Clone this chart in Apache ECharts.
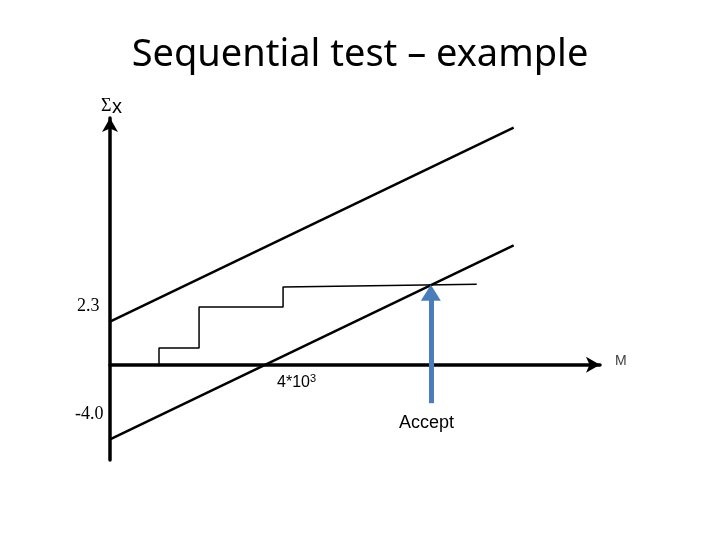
<!DOCTYPE html>
<html>
<head>
<meta charset="utf-8">
<script src="https://cdn.jsdelivr.net/npm/echarts@6/dist/echarts.min.js"></script>
<style>
	html,body{margin:0;padding:0;background:#fff}
	#chart{width:720px;height:540px}
</style>
</head>
<body>
<div id="chart"></div>
<script>
	// M in units of 10^3, sum in units of x
	var boundM = [0, 10.38];
	var upperSum = [2.3, 12.68];
	var lowerSum = [-4.0, 6.38];
	var stepM = [1.26, 1.26, 2.29, 2.29, 4.45, 4.45, 9.43];
	var stepSum = [0, 0.89, 0.89, 3.09, 3.09, 4.16, 4.3];
	var acceptM = 8.25;
	var acceptSum = [-2.06, 3.85];

	function pairs(xs, ys) {
		return xs.map(function (x, i) { return [x, ys[i]]; });
	}

	var myChart = echarts.init(document.getElementById('chart'));
	var option = {
		animation: false,
		title: {
			text: 'Sequential test – example',
			left: 'center',
			top: 31,
			textStyle: {fontFamily: 'Noto Sans', fontWeight: 'normal', fontSize: 38, color: '#000'}
		},
		grid: {left: 110, right: 120, top: 118, bottom: 80},
		xAxis: {
			type: 'value', min: 0, max: 12.6,
			axisLine: {onZero: true, symbol: ['none', 'arrow'], symbolSize: [12, 14], lineStyle: {color: '#000', width: 3.5}},
			axisTick: {show: false}, axisLabel: {show: false}, splitLine: {show: false}
		},
		yAxis: {
			type: 'value', min: -5.1, max: 13.2,
			axisLine: {onZero: false, symbol: ['none', 'arrow'], symbolSize: [12, 14], lineStyle: {color: '#000', width: 3.5}},
			axisTick: {show: false}, axisLabel: {show: false}, splitLine: {show: false}
		},
		series: [
			{
				type: 'line', data: pairs(boundM, upperSum), showSymbol: false,
				lineStyle: {color: '#000', width: 2.5}
			},
			{
				type: 'line', data: pairs(boundM, lowerSum), showSymbol: false,
				lineStyle: {color: '#000', width: 2.5}
			},
			{
				type: 'line', data: pairs(stepM, stepSum), showSymbol: false,
				lineStyle: {color: '#000', width: 1.5},
				markLine: {
					silent: true,
					symbol: ['none', 'triangle'],
					symbolSize: [20, 16],
					lineStyle: {color: '#4a7ebb', width: 5, type: 'solid'},
					label: {show: false},
					data: [[{coord: [acceptM, acceptSum[0]]}, {coord: [acceptM, acceptSum[1]]}]]
				}
			}
		],
		graphic: [
			{type: 'text', left: 101, top: 97, style: {text: 'Σ', font: '18px "Liberation Serif"', fill: '#000'}},
			{type: 'text', left: 112, top: 97, style: {text: 'x', font: '20px "Liberation Sans"', fill: '#000'}},
			{type: 'text', left: 77, top: 297, style: {text: '2.3', font: '18px "Liberation Serif"', fill: '#000'}},
			{type: 'text', left: 75, top: 405, style: {text: '-4.0', font: '18px "Liberation Serif"', fill: '#000'}},
			{type: 'text', left: 615, top: 354, style: {text: 'M', font: '14px "Liberation Sans"', fill: '#404040'}},
			{type: 'text', left: 277, top: 373, style: {rich: {a: {font: '16px "Liberation Sans"', fill: '#000'}, s: {font: '11px "Liberation Sans"', fill: '#000', verticalAlign: 'top', padding: [0, 0, 8, 0]}}, text: '{a|4*10}{s|3}'}},
			{type: 'text', left: 399, top: 414, style: {text: 'Accept', font: '18px "Liberation Sans"', fill: '#000'}}
		]
	};
	myChart.setOption(option);
</script>
</body>
</html>
